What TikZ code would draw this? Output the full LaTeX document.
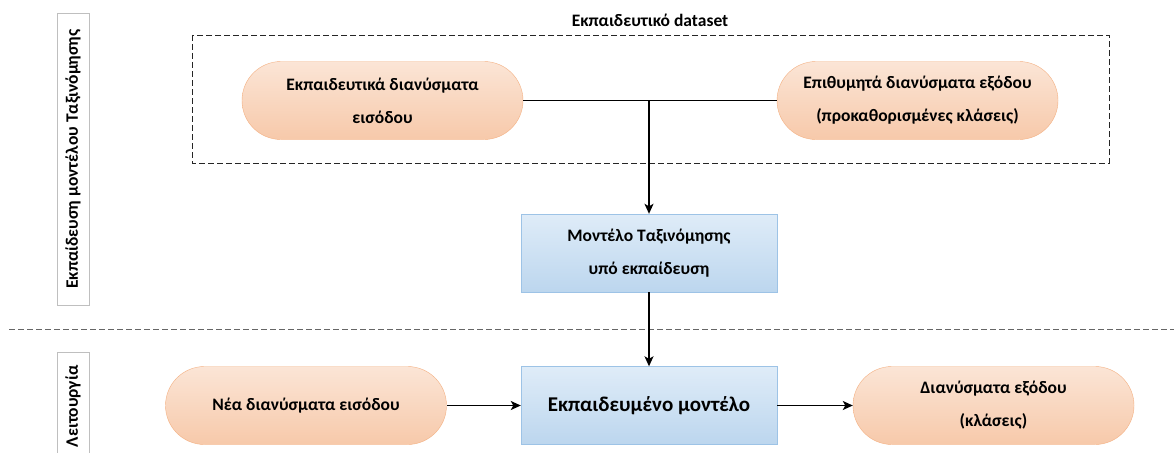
\documentclass[tikz,border=0pt]{standalone}
\usepackage{fontspec}
\setmainfont{Carlito}
\usetikzlibrary{shapes,arrows,arrows.meta}

\definecolor{peachtop}{RGB}{251,229,214}
\definecolor{peachbot}{RGB}{247,201,170}
\definecolor{peachline}{RGB}{244,177,131}
\definecolor{bluetop}{RGB}{223,236,248}
\definecolor{bluebot}{RGB}{188,214,238}
\definecolor{blueline}{RGB}{157,195,230}
\definecolor{tagline}{RGB}{191,191,191}

\tikzset{
  pill/.style={rounded rectangle, draw=peachline, top color=peachtop, bottom color=peachbot,
    minimum width=281pt, minimum height=78pt, align=center, inner sep=0pt,
    font=\fontsize{17.5}{33}\selectfont\bfseries},
  modelbox/.style={rectangle, draw=blueline, top color=bluetop, bottom color=bluebot,
    minimum width=256pt, minimum height=78pt, align=center, inner sep=0pt,
    font=\fontsize{17.5}{33}\selectfont\bfseries},
  tagbox/.style={draw=tagline, line width=0.8pt},
  tagtext/.style={rotate=90, font=\fontsize{17.5}{20}\selectfont\bfseries},
  link/.style={line width=1.5pt, black},
  tip/.style={-{Stealth[length=10pt, width=9pt, inset=2.5pt]}},
  dashline/.style={line width=0.9pt, dash pattern=on 6pt off 3pt}
}

\begin{document}
\begin{tikzpicture}[x=1pt, y=-1pt]
  \useasboundingbox (0,0) rectangle (1174,452);
  \fill[white] (0,0) rectangle (1174,452);

  % phase tags
  \draw[tagbox] (57,13) rectangle (89,305);
  \node[tagtext] (tagtrain) at (73,159) {Εκπαίδευση μοντέλου Ταξινόμησης};
  \draw[tagbox] (57,352) rectangle (89,470);
  \node[tagtext, anchor=east] (tagrun) at (73,362) {Λειτουργία};
  \draw[dashline, black!60] (9,329) -- (1174,329);

  % dataset
  \draw[dashline, black!85] (192,35) rectangle (1109,163);
  \node[font=\fontsize{17.5}{20}\selectfont\bfseries] (dset) at (650,20) {Εκπαιδευτικό dataset};
  \node[pill] (trin) at (382.5,100.5) {Εκπαιδευτικά διανύσματα\\εισόδου};
  \node[pill] (trgt) at (917.5,100.5) {Επιθυμητά διανύσματα εξόδου\\(προκαθορισμένες κλάσεις)};
  \node[modelbox] (mdl) at (649,253) {Μοντέλο Ταξινόμησης\\υπό εκπαίδευση};

  % operation
  \node[modelbox, font=\fontsize{21}{25}\selectfont\bfseries] (trnd) at (649,405.5) {Εκπαιδευμένο μοντέλο};
  \node[pill] (nea) at (306,405.5) {Νέα διανύσματα εισόδου};
  \node[pill] (outv) at (993.5,405.5) {Διανύσματα εξόδου\\(κλάσεις)};

  \coordinate (jn) at (trin.east -| mdl.north);
  \draw[link] (trin.east) -- (trgt.west);
  \draw[link, tip] (jn) -- (mdl.north);
  \draw[link, tip] (mdl.south) -- (trnd.north);
  \draw[link, tip] (nea.east) -- (trnd.west);
  \draw[link, tip] (trnd.east) -- (outv.west);
\end{tikzpicture}
\end{document}
